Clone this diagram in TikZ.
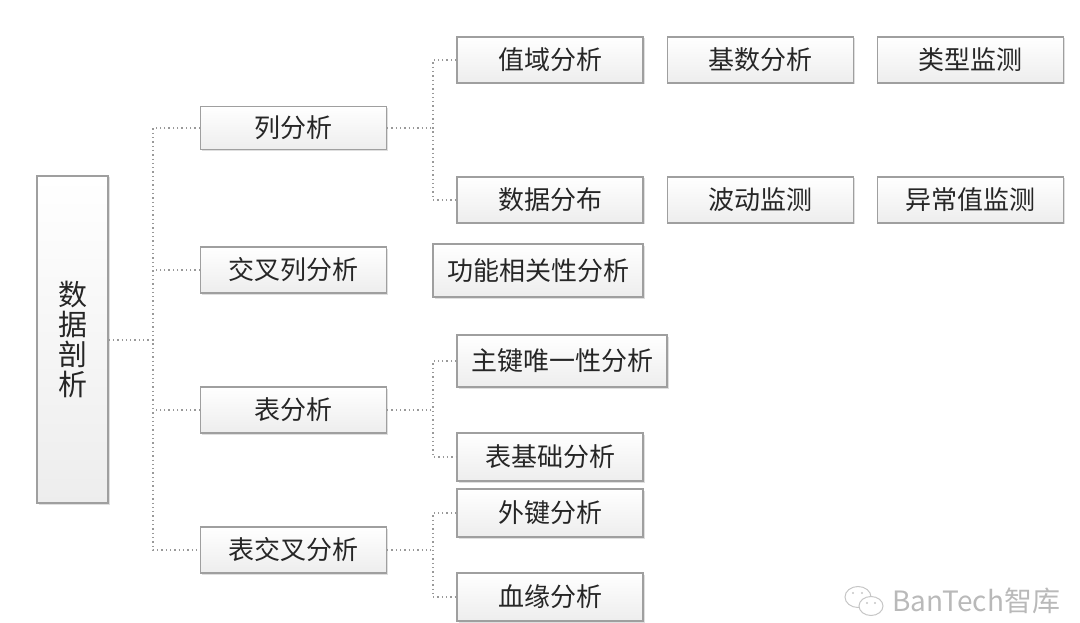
\documentclass[tikz,border=0pt]{standalone}
\usepackage{fontspec}
\setmainfont{Noto Sans CJK SC}
\usepackage{tikz}
\usetikzlibrary{shadows}

\begin{document}
\begin{tikzpicture}[x=1pt, y=-1pt,
  box/.style={draw=gray!75, line width=1.3pt, top color=white, bottom color=gray!14,
    drop shadow={shadow xshift=1.5pt, shadow yshift=-1.5pt, opacity=.25},
    inner sep=0pt, minimum width=186pt, minimum height=46pt,
    font=\fontsize{26}{30}\selectfont, text=black!85},
  link/.style={gray!80, line width=1.3pt, dash pattern=on 1.3pt off 3pt}]
\useasboundingbox (0, 0) rectangle (1080, 623);

\node[box, minimum width=71pt, minimum height=327pt, align=center,
  font=\fontsize{29}{30}\selectfont] (root) at (72.5, 339.5) {数\\据\\剖\\析};

\node[box, minimum height=43pt] (col) at (293.5, 128) {列分析};
\node[box] (crosscol) at (293.5, 270) {交叉列分析};
\node[box] (tab) at (293.5, 410) {表分析};
\node[box] (tabcross) at (293.5, 550) {表交叉分析};

\node[box] (range) at (550, 60) {值域分析};
\node[box] (card) at (760.5, 60) {基数分析};
\node[box] (type) at (970.5, 60) {类型监测};
\node[box] (dist) at (550, 200) {数据分布};
\node[box] (fluct) at (760.5, 200) {波动监测};
\node[box] (outlier) at (970.5, 200) {异常值监测};
\node[box, minimum width=210pt, minimum height=53pt] (func) at (538, 270.5) {功能相关性分析};
\node[box, minimum width=210pt, minimum height=52pt] (pk) at (562, 361) {主键唯一性分析};
\node[box, minimum height=48pt] (tbase) at (550, 457) {表基础分析};
\node[box, minimum height=48pt] (fk) at (550, 513) {外键分析};
\node[box, minimum height=48pt] (lineage) at (550, 597) {血缘分析};

\coordinate (trunk) at (153, 340);
\coordinate (b1) at (433, 128);
\coordinate (b2) at (433, 410);
\coordinate (b3) at (433, 550);

\draw[link] (root.east |- trunk) -- (trunk);
\draw[link] (col.west) -| (trunk) |- (tabcross.west);
\draw[link] (crosscol.west) -- (crosscol.west -| trunk);
\draw[link] (tab.west) -- (tab.west -| trunk);

\draw[link] (col.east) -- (b1);
\draw[link] (range.west) -| (b1) |- (dist.west);
\draw[link] (tab.east) -- (b2);
\draw[link] (pk.west) -| (b2) |- (tbase.west);
\draw[link] (tabcross.east) -- (b3);
\draw[link] (fk.west) -| (b3) |- (lineage.west);

\draw[gray!45, line width=1pt] (858, 597) ellipse (13 and 10.5);
\draw[gray!45, line width=1pt, fill=white] (871, 606) ellipse (12 and 9.5);
\fill[gray!45] (853, 593) circle (1.2) (862, 593) circle (1.2) (867, 603) circle (1.1) (875, 603) circle (1.1);
\node[gray!55, anchor=west, inner sep=0pt, font=\fontsize{28}{32}\selectfont] (mark) at (892, 601) {BanTech智库};
\end{tikzpicture}
\end{document}
